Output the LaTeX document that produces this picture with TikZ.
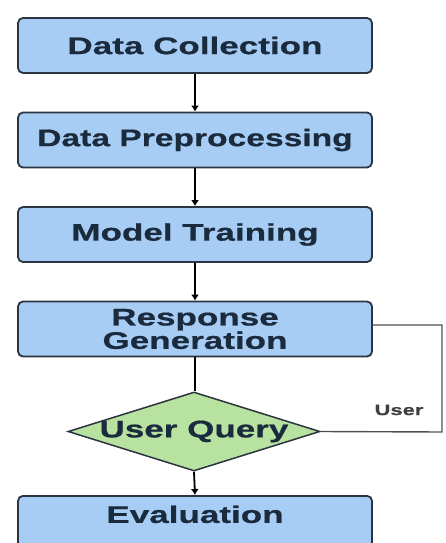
\documentclass[tikz,border=0pt]{standalone}
\usepackage{fontspec}
\setmainfont{Liberation Sans}[FakeStretch=1.46, BoldFeatures={FakeBold=0.6}]
\newfontfamily\narrowsans{Liberation Sans}[FakeStretch=1.40, BoldFeatures={FakeBold=0.6}]
\usetikzlibrary{shapes.geometric,arrows.meta}

\definecolor{boxfill}{HTML}{A8CDF5}
\definecolor{qfill}{HTML}{B8E2A0}
\definecolor{ink}{HTML}{1B2B3E}
\definecolor{edge}{HTML}{2B3440}
\definecolor{loopline}{HTML}{505050}

\tikzset{
  stage/.style={draw=edge, line width=1.8pt, fill=boxfill, rounded corners=5pt,
    minimum width=354pt, minimum height=55pt, inner sep=0pt, align=center,
    text=ink, font=\fontsize{24}{22}\selectfont\bfseries},
  query/.style={diamond, draw=edge, line width=1.5pt, fill=qfill,
    minimum width=252pt, minimum height=79pt, inner sep=0pt,
    text=ink, font=\fontsize{24}{22}\selectfont\bfseries},
  flow/.style={draw=black, line width=1.8pt, -{Latex[length=6pt,width=8pt]}},
  plain/.style={draw=black, line width=1.8pt},
  back/.style={draw=loopline, line width=1.4pt},
  note/.style={text=loopline!80!black, font=\fontsize{15}{15}\selectfont\bfseries}
}

\begin{document}
\begin{tikzpicture}[x=1pt,y=-1pt]
  \fill[white] (0,0) rectangle (445,543);
  \clip (0,0) rectangle (445,543);

  \node[stage] (collect) at (195,45.5) {Data Collection};
  \node[stage] (prep)    at (195,140)  {\narrowsans\bfseries Data Preprocessing};
  \node[stage] (train)   at (195,234.5) {Model Training};
  \node[stage] (respond) at (195,329)  {Response\\Generation};
  \node[query] (ask)     at (194,431.5) {\makebox[0pt]{\raisebox{-3pt}{User Query}}};
  \node[stage, anchor=north, minimum height=0pt, inner ysep=5pt,
        text height=22pt, text depth=40pt] (eval) at (195,495) {Evaluation};

  \draw[flow] (collect) -- (prep);
  \draw[flow] (prep) -- (train);
  \draw[flow] (train) -- (respond);
  \draw[plain] (respond.south) -- (respond.south |- ask.north);
  \draw[flow] (ask.south) -- (eval.north);

  \coordinate (turnA) at (442,325);
  \coordinate (turnB) at (442,432);
  \draw[back] ([yshift=4pt]respond.east) -- (turnA) -- (turnB) -- (ask.east);
  \node[note] (userlbl) at (399,410) {User};
\end{tikzpicture}
\end{document}
